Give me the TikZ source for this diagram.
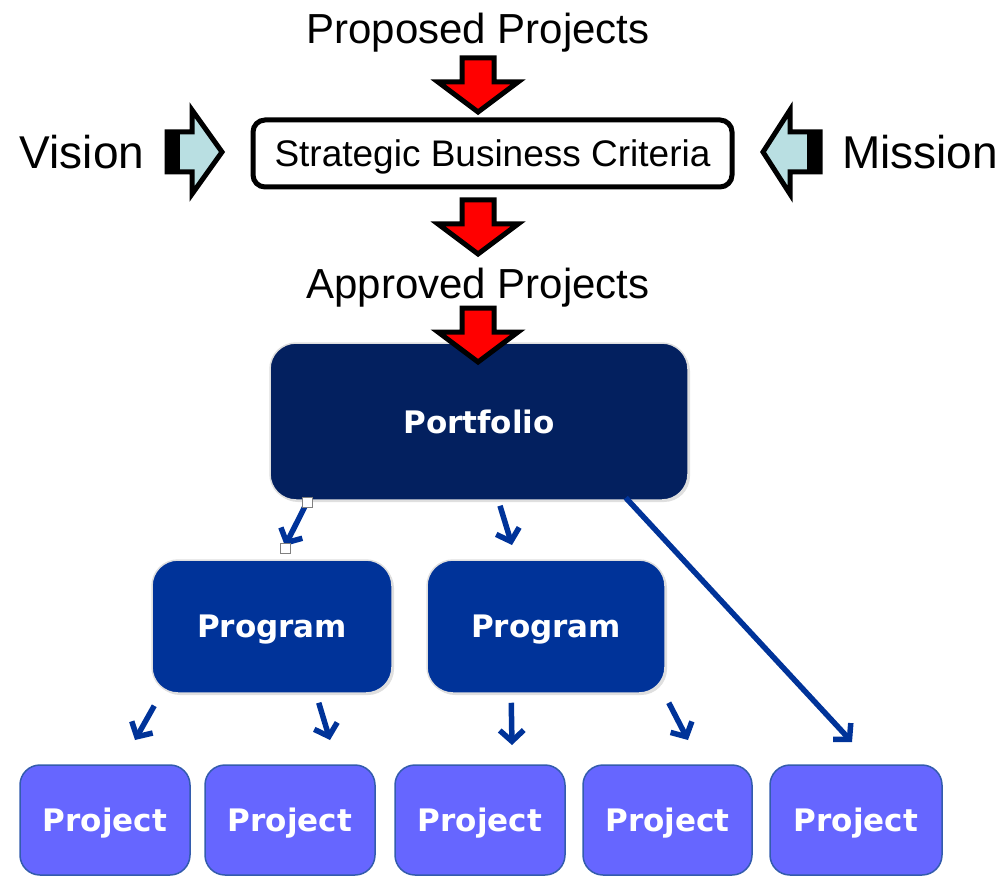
\documentclass[tikz,border=0pt]{standalone}
\usepackage{fontspec}
\setmainfont{Liberation Sans}
\newfontfamily\boxfont{DejaVu Sans}
\usetikzlibrary{arrows.meta,shadows}

\definecolor{portnavy}{HTML}{03205F}
\definecolor{progblue}{HTML}{003399}
\definecolor{projblue}{HTML}{6666FF}
\definecolor{sidecyan}{HTML}{B9DFE2}

\tikzset{
  big text/.style={font=\fontsize{42}{50}\selectfont},
  side text/.style={font=\fontsize{46}{54}\selectfont},
  crit box/.style={draw=black, line width=5pt, rounded corners=12pt, text depth=0pt, font=\fontsize{37}{44}\selectfont},
  unit box/.style={rounded corners=26pt, text=white, inner sep=0pt, text depth=0pt, font=\boxfont\bfseries\fontsize{31}{36}\selectfont},
  port box/.style={unit box, fill=portnavy, draw=gray!25, line width=1.5pt,
    drop shadow={shadow xshift=2pt, shadow yshift=-2pt, opacity=0.25}},
  prog box/.style={unit box, fill=progblue, draw=gray!25, line width=1.5pt,
    drop shadow={shadow xshift=2pt, shadow yshift=-2pt, opacity=0.25}},
  proj box/.style={unit box, rounded corners=20pt, fill=projblue, draw=progblue!80, line width=1.5pt},
  red arrow/.style={fill=red, draw=black, line width=5pt, miter limit=10},
  side arrow/.style={fill=sidecyan, draw=black, line width=5pt, miter limit=10},
  flow/.style={draw=progblue, line width=5.5pt, -{Straight Barb[length=11pt, width=24pt]}},
  handle/.style={draw=gray, fill=white, line width=1pt, minimum size=10pt, inner sep=0pt}
}

\begin{document}
\begin{tikzpicture}[x=1pt, y=-1pt]
  \useasboundingbox (0,0) rectangle (1006,877);

  % hierarchy
  \node[port box, minimum width=418pt, minimum height=157pt] (port) at (479,421.5) {Portfolio};
  \node[prog box, minimum width=240pt, minimum height=133pt] (prg1) at (272,626.5) {Program};
  \node[prog box, minimum width=238pt, minimum height=133pt] (prg2) at (546,626.5) {Program};

  \node[proj box, minimum width=170pt, minimum height=110pt] (prj1) at (105,820) {Project};
  \node[proj box, minimum width=170pt, minimum height=110pt] (prj2) at (290,820) {Project};
  \node[proj box, minimum width=170pt, minimum height=110pt] (prj3) at (480,820) {Project};
  \node[proj box, minimum width=169pt, minimum height=110pt] (prj4) at (667.5,820) {Project};
  \node[proj box, minimum width=172pt, minimum height=110pt] (prj5) at (856,820) {Project};

  % selection stage
  \node[big text] (proposed) at (478,33) {Proposed Projects};
  \node[crit box, minimum width=479pt, minimum height=67pt] (crit) at (492.5,153.5) {Strategic Business Criteria};
  \node[big text] (approved) at (478,288) {Approved Projects};
  \node[side text] (vision) at (82,152) {Vision};
  \node[side text] (mission) at (920,152) {Mission};

  \foreach \t in {58,200,308}
    \draw[red arrow] (462,\t) -- (494,\t) -- (494,\t+24) -- (518,\t+24) -- (478,\t+54)
      -- (438,\t+24) -- (462,\t+24) -- cycle;

  \draw[side arrow] (167,132) -- (192,132) -- (192,110) -- (222,152) -- (192,194) -- (192,172) -- (167,172) -- cycle;
  \fill (167,132) rectangle (180,172);
  \draw[side arrow] (820,132) -- (790,132) -- (790,110) -- (763,152) -- (790,194) -- (790,172) -- (820,172) -- cycle;
  \fill (807,132) rectangle (820,172);

  \coordinate (to prg1) at (285,546);
  \coordinate (to prg2) at (512,545);
  \coordinate (to prj1) at (135,740);
  \coordinate (to prj2) at (330,740);
  \coordinate (to prj3) at (512,745);
  \coordinate (to prj4) at (688,740);
  \coordinate (to prj5) at (852,742);

  \draw[flow] ([shift={(37,3)}]port.south west) -- (to prg1);
  \draw[flow] ([shift={(21,5)}]port.south) -- (to prg2);
  \draw[flow] ([shift={(-63,-3)}]port.south east) -- (to prj5);
  \draw[flow] ([shift={(3,12)}]prg1.south west) -- (to prj1);
  \draw[flow] ([shift={(-74,9)}]prg1.south east) -- (to prj2);
  \draw[flow] ([shift={(85,9)}]prg2.south west) -- (to prj3);
  \draw[flow] ([shift={(3,9)}]prg2.south east) -- (to prj4);

  \node[handle] (h1) at (307,502) {};
  \node[handle] (h2) at (285,548) {};
\end{tikzpicture}
\end{document}
